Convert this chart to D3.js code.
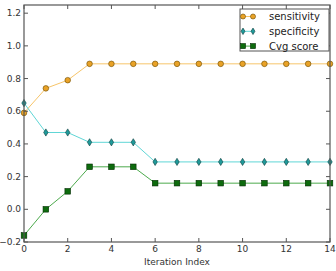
<!DOCTYPE html>
<html><head><meta charset="utf-8">
<script src="https://cdn.jsdelivr.net/npm/d3@7/dist/d3.min.js"></script>
<style>body{margin:0;background:#fff}svg{display:block}</style>
</head><body>
<svg id="c" width="336" height="271"></svg>
<script>
const iterations = [0,1,2,3,4,5,6,7,8,9,10,11,12,13,14];
const sensitivity = [0.59,0.74,0.79,0.89,0.89,0.89,0.89,0.89,0.89,0.89,0.89,0.89,0.89,0.89,0.89];
const specificity = [0.65,0.47,0.47,0.41,0.41,0.41,0.29,0.29,0.29,0.29,0.29,0.29,0.29,0.29,0.29];
const cvgScore = [-0.16,0.0,0.11,0.26,0.26,0.26,0.16,0.16,0.16,0.16,0.16,0.16,0.16,0.16,0.16];
const xTicks = [0,2,4,6,8,10,12,14];
const yTicks = [-0.2,0.0,0.2,0.4,0.6,0.8,1.0,1.2];
const seriesNames = ["sensitivity","specificity","Cvg score"];

const svg = d3.select("#c");
const L=24, R=330, T=5, B=242;
const x = d3.scaleLinear().domain([0,14]).range([L,R]);
const y = d3.scaleLinear().domain([-0.2,1.25]).range([B,T]);
const font = "DejaVu Sans, sans-serif";

const series = [
  {name:seriesNames[0], vals:sensitivity, line:"#f7c56a", fill:"#e9a227", stroke:"#6b4a00", shape:"circle"},
  {name:seriesNames[1], vals:specificity, line:"#5fd6d6", fill:"#1f9a9a", stroke:"#0b3a3a", shape:"diamond"},
  {name:seriesNames[2], vals:cvgScore, line:"#4caa4c", fill:"#0d6b0d", stroke:"#022a02", shape:"square"}
];

function marker(g, shape, cx, cy, s){
  if(shape==="circle") g.append("circle").attr("cx",cx).attr("cy",cy).attr("r",2.8*s);
  else if(shape==="square") g.append("rect").attr("x",cx-2.8*s).attr("y",cy-2.8*s).attr("width",5.6*s).attr("height",5.6*s);
  else g.append("path").attr("d",`M${cx},${cy-3.6*s}L${cx+2.2*s},${cy}L${cx},${cy+3.6*s}L${cx-2.2*s},${cy}Z`);
}

const line = d3.line().x((d,i)=>x(iterations[i])).y(d=>y(d));
series.forEach(s=>{
  svg.append("path").attr("d",line(s.vals)).attr("fill","none").attr("stroke",s.line).attr("stroke-width",1);
  const g = svg.append("g").attr("fill",s.fill).attr("stroke",s.stroke).attr("stroke-width",0.6);
  s.vals.forEach((v,i)=>marker(g,s.shape,x(iterations[i]),y(v),1));
});

// frame
svg.append("rect").attr("x",L).attr("y",T).attr("width",R-L).attr("height",B-T)
  .attr("fill","none").attr("stroke","#555").attr("stroke-width",1.2);

// ticks inward
const tk = svg.append("g").attr("stroke","#555").attr("stroke-width",1);
xTicks.forEach(t=>{
  tk.append("line").attr("x1",x(t)).attr("x2",x(t)).attr("y1",B).attr("y2",B-4);
  tk.append("line").attr("x1",x(t)).attr("x2",x(t)).attr("y1",T).attr("y2",T+4);
});
yTicks.forEach(t=>{
  tk.append("line").attr("x1",L).attr("x2",L+4).attr("y1",y(t)).attr("y2",y(t));
  tk.append("line").attr("x1",R).attr("x2",R-4).attr("y1",y(t)).attr("y2",y(t));
});
const fmt = d3.format(".1f");
svg.append("g").selectAll("text").data(xTicks).join("text")
  .attr("x",d=>x(d)).attr("y",B+10).attr("text-anchor","middle")
  .attr("font-family",font).attr("font-size",9).attr("fill","#333").text(d=>d);
svg.append("g").selectAll("text").data(yTicks).join("text")
  .attr("x",L-3).attr("y",d=>y(d)+3).attr("text-anchor","end")
  .attr("font-family",font).attr("font-size",9).attr("fill","#333").text(d=>fmt(d).replace("-","\u2212"));
svg.append("text").attr("x",(L+R)/2).attr("y",264.5).attr("text-anchor","middle")
  .attr("font-family",font).attr("font-size",9).attr("fill","#333").text("Iteration Index");

// legend
const lg = svg.append("g");
lg.append("rect").attr("x",240).attr("y",9).attr("width",89).attr("height",42)
  .attr("fill","#fff").attr("stroke","#555").attr("stroke-width",1);
series.forEach((s,i)=>{
  const yy = 16.5 + i*14.8;
  lg.append("line").attr("x1",243).attr("x2",253).attr("y1",yy).attr("y2",yy).attr("stroke",s.line).attr("stroke-width",1);
  const g = lg.append("g").attr("fill",s.fill).attr("stroke",s.stroke).attr("stroke-width",0.6);
  marker(g,s.shape,243,yy,0.9); marker(g,s.shape,253,yy,0.9);
  lg.append("text").attr("x",269).attr("y",yy+3.8).attr("font-family",font).attr("font-size",10).attr("fill","#222").text(s.name);
});
</script>
</body></html>
